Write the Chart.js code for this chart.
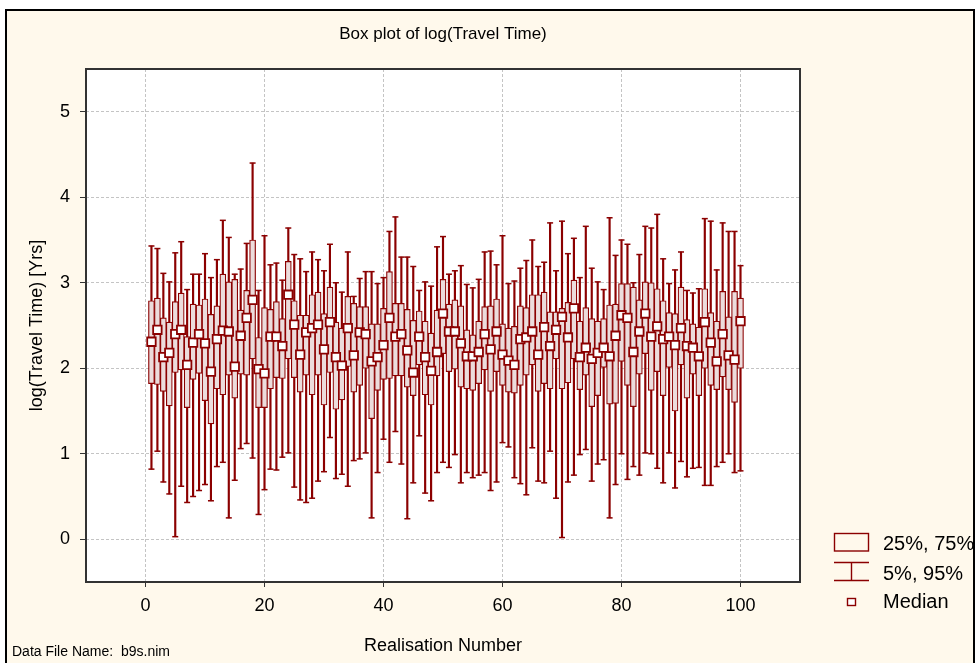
<!DOCTYPE html>
<html>
<head>
<meta charset="utf-8">
<script src="https://cdn.jsdelivr.net/npm/chart.js@4/dist/chart.umd.min.js"></script>
<style>
  html, body { margin: 0; padding: 0; background: #ffffff; }
  #wrap { position: relative; width: 978px; height: 663px; overflow: hidden; }
  #frame { position: absolute; left: 5px; top: 9px; width: 970px; height: 660px;
           border: 2px solid #000; background: #fff9ec; box-sizing: border-box; }
  #c { position: absolute; left: 0; top: 0; }
</style>
</head>
<body>
<div id="wrap">
  <div id="frame"></div>
  <canvas id="c" width="978" height="663"></canvas>
</div>
<script>
// Realisation numbers 1..100
const realisation = Array.from({ length: 100 }, (_, i) => i + 1);

// Percentiles of log(Travel Time) per realisation
const p95 = [3.43,3.40,3.11,3.01,3.35,3.48,2.92,3.10,3.10,3.34, 3.06,3.27,3.73,3.53,3.10,3.16,3.46,4.40,2.91,3.55,
             3.21,3.23,3.03,3.64,3.33,3.28,3.13,3.36,3.27,3.14, 3.45,3.00,2.89,3.36,2.84,3.05,3.13,3.13,2.99,3.06,
             3.60,3.77,3.30,3.30,3.19,2.91,3.01,2.96,3.42,3.54, 3.10,3.14,3.20,2.98,2.94,3.04,3.36,3.37,3.21,3.55,
             2.99,3.02,3.17,3.26,3.50,3.19,3.24,3.70,3.14,3.72, 3.34,3.52,3.06,3.66,3.17,3.01,2.92,3.76,3.32,3.50,
             3.45,3.00,3.33,3.66,3.64,3.80,3.28,2.99,3.15,3.36, 2.91,2.88,2.93,3.75,3.72,3.15,3.70,3.60,3.60,3.20];
const p75 = [2.79,2.82,2.59,2.54,2.78,2.88,2.37,2.75,2.74,2.81, 2.63,2.73,3.10,3.01,3.04,2.68,2.91,3.50,2.36,2.71,
             2.69,2.78,2.58,3.25,2.79,2.62,2.62,2.86,2.89,2.64, 2.95,2.54,2.47,2.84,2.76,2.72,2.72,2.52,2.52,2.70,
             3.13,2.76,2.76,2.69,2.56,2.67,2.55,2.41,2.68,3.04, 2.75,2.80,2.73,2.45,2.39,2.55,2.72,2.73,2.81,2.52,
             2.47,2.49,2.73,2.71,2.86,2.86,2.89,2.66,2.66,2.70, 2.77,3.03,2.55,2.71,2.58,2.55,2.58,2.74,2.75,2.99,
             2.99,2.95,2.80,3.01,3.00,2.93,2.79,2.65,2.64,2.95, 2.57,2.52,2.48,2.93,2.65,2.55,2.90,2.60,2.90,2.82];
const median = [2.31,2.45,2.13,2.18,2.40,2.45,2.04,2.30,2.40,2.29, 1.96,2.34,2.44,2.43,2.02,2.38,2.59,2.80,1.99,1.94,
             2.37,2.37,2.26,2.86,2.51,2.16,2.42,2.47,2.51,2.22, 2.54,2.13,2.03,2.47,2.15,2.42,2.40,2.08,2.13,2.27,
             2.59,2.37,2.40,2.21,1.95,2.37,2.13,1.97,2.19,2.64, 2.43,2.43,2.29,2.14,2.14,2.19,2.40,2.22,2.43,2.16,
             2.09,2.04,2.34,2.36,2.43,2.16,2.48,2.26,2.45,2.60, 2.36,2.70,2.13,2.24,2.11,2.18,2.24,2.14,2.38,2.62,
             2.59,2.19,2.43,2.64,2.37,2.49,2.34,2.37,2.27,2.47, 2.26,2.24,2.14,2.54,2.30,2.08,2.40,2.15,2.10,2.55];
const p25 = [1.82,1.81,1.73,1.56,1.95,1.98,1.54,1.87,1.94,1.62, 1.35,1.76,1.69,1.92,1.65,1.93,1.92,2.11,1.54,1.54,
             1.76,1.89,1.88,2.11,1.89,1.72,1.92,1.69,1.92,1.57, 1.95,1.52,1.63,2.02,1.72,1.80,2.00,1.41,1.74,1.87,
             1.88,1.91,1.91,1.78,1.68,2.04,1.69,1.57,1.91,2.17, 1.96,1.99,1.78,1.76,1.74,1.82,1.98,1.73,1.96,1.80,
             1.72,1.71,1.80,1.92,2.04,1.73,1.82,1.76,2.11,1.76, 1.83,2.11,1.75,1.92,1.55,1.68,2.01,1.58,1.59,2.08,
             1.80,1.55,1.93,2.17,1.74,1.96,1.68,2.01,1.50,2.04, 1.65,1.93,1.68,2.00,1.80,1.75,1.90,1.75,1.60,2.00];
const p5  = [0.82,1.03,0.67,0.53,0.03,0.62,0.43,0.50,0.57,0.64, 0.45,0.85,0.90,0.25,0.69,1.06,1.12,0.95,0.29,0.58,
             0.82,0.81,0.96,1.01,0.61,0.46,0.43,0.48,0.68,0.79, 1.19,0.71,0.76,0.62,0.92,0.94,1.01,0.25,0.78,1.17,
             0.90,1.26,0.88,0.24,0.66,1.21,0.54,0.45,0.78,0.90, 0.84,0.99,0.66,0.78,0.72,0.75,0.78,0.57,0.67,1.13,
             1.08,0.72,0.65,0.52,1.07,0.68,0.66,1.03,0.48,0.02, 0.67,0.75,0.99,1.05,0.68,0.88,0.93,0.25,0.64,1.00,
             0.70,0.85,0.75,1.01,1.00,0.83,0.66,1.01,0.60,0.91, 0.73,0.83,0.84,0.63,0.63,0.85,0.90,1.00,0.78,0.80];

const xTicks = [0, 20, 40, 60, 80, 100];
const yTicks = [0, 1, 2, 3, 4, 5];

const RED = '#8b0000';
const FONT = '"Liberation Sans", Arial, sans-serif';

const whiskers = realisation.map((r, i) => ({ x: r, y: [p5[i], p95[i]] }));
const boxes    = realisation.map((r, i) => ({ x: r, y: [p25[i], p75[i]] }));
const lowCaps  = realisation.map((r, i) => ({ x: r, y: p5[i] }));
const highCaps = realisation.map((r, i) => ({ x: r, y: p95[i] }));
const medians  = realisation.map((r, i) => ({ x: r, y: median[i] }));

// Plot frame, title, legend and footnote
const decor = {
  id: 'decor',
  beforeDraw(chart) {
    const { ctx, chartArea: a } = chart;
    ctx.save();
    ctx.fillStyle = '#ffffff';
    ctx.fillRect(a.left, a.top, a.right - a.left, a.bottom - a.top);
    ctx.restore();
  },
  afterDraw(chart) {
    const { ctx, chartArea: a } = chart;
    ctx.save();
    // frame around plotting area
    ctx.strokeStyle = '#333';
    ctx.lineWidth = 2;
    ctx.strokeRect(a.left, a.top, a.right - a.left, a.bottom - a.top);

    // title
    ctx.fillStyle = '#000';
    ctx.font = '17px ' + FONT;
    ctx.textAlign = 'center';
    ctx.textBaseline = 'middle';
    ctx.fillText('Box plot of log(Travel Time)', (a.left + a.right) / 2, 34);

    // legend
    ctx.strokeStyle = RED;
    ctx.lineWidth = 1.4;
    ctx.strokeRect(834.5, 533.5, 34, 17.5);
    ctx.beginPath();
    ctx.moveTo(834, 562.5); ctx.lineTo(869, 562.5);
    ctx.moveTo(834, 580.5); ctx.lineTo(869, 580.5);
    ctx.moveTo(851.5, 562.5); ctx.lineTo(851.5, 580.5);
    ctx.stroke();
    ctx.fillStyle = '#fff';
    ctx.fillRect(847.5, 598.5, 8, 7);
    ctx.strokeRect(847.5, 598.5, 8, 7);

    ctx.fillStyle = '#000';
    ctx.font = '20px ' + FONT;
    ctx.textAlign = 'left';
    ctx.fillText('25%, 75%', 883, 544);
    ctx.fillText('5%, 95%', 883, 574);
    ctx.fillText('Median', 883, 602);

    // footnote
    ctx.font = '14px ' + FONT;
    ctx.fillText('Data File Name:  b9s.nim', 12, 652);
    ctx.restore();
  }
};

new Chart(document.getElementById('c'), {
  type: 'bar',
  data: {
    datasets: [
      { type: 'scatter', label: 'Median', data: medians, order: 0,
        pointStyle: 'rect', pointRadius: 6, pointHoverRadius: 6,
        pointBackgroundColor: '#ffffff', pointBorderColor: RED, pointBorderWidth: 1.8 },
      { type: 'bar', label: '25%, 75%', data: boxes, order: 1, grouped: false,
        barThickness: 6, backgroundColor: '#ecdcdc', borderColor: RED,
        borderWidth: 1.2, borderSkipped: false },
      { type: 'scatter', label: '95%', data: highCaps, order: 2,
        pointStyle: 'line', pointRadius: 3, pointBorderColor: RED, pointBorderWidth: 1.5 },
      { type: 'scatter', label: '5%', data: lowCaps, order: 2,
        pointStyle: 'line', pointRadius: 3, pointBorderColor: RED, pointBorderWidth: 1.5 },
      { type: 'bar', label: '5%, 95%', data: whiskers, order: 3, grouped: false,
        barThickness: 1.5, backgroundColor: RED, borderWidth: 0 }
    ]
  },
  options: {
    responsive: false,
    animation: false,
    events: [],
    layout: { padding: { left: 0, top: 69, right: 178, bottom: 0 } },
    plugins: { legend: { display: false }, title: { display: false }, tooltip: { enabled: false } },
    scales: {
      x: {
        type: 'linear', min: -10, max: 110, offset: false,
        afterBuildTicks: (axis) => { axis.ticks = xTicks.map(v => ({ value: v })); },
        afterFit: (axis) => { axis.height = 81; },
        grid: { color: '#c4c4c4', lineWidth: 1, tickColor: '#333', tickLength: 5, offset: false },
        border: { display: false, dash: [3, 2] },
        ticks: { color: '#000', font: { family: FONT, size: 18 }, padding: 8, maxRotation: 0 },
        title: { display: true, text: 'Realisation Number', color: '#000',
                 font: { family: FONT, size: 18 }, padding: { top: 0, bottom: 6 } }
      },
      y: {
        type: 'linear', min: -0.5, max: 5.5,
        afterBuildTicks: (axis) => { axis.ticks = yTicks.map(v => ({ value: v })); },
        afterFit: (axis) => { axis.width = 86; },
        grid: { color: '#c4c4c4', lineWidth: 1, tickColor: '#333', tickLength: 6 },
        border: { display: false, dash: [3, 2] },
        ticks: { color: '#000', font: { family: FONT, size: 18 }, padding: 10 },
        title: { display: true, text: 'log(Travel Time) [Yrs]', color: '#000',
                 font: { family: FONT, size: 18 }, padding: { top: 26, bottom: 0 } }
      }
    }
  },
  plugins: [decor]
});
</script>
</body>
</html>
